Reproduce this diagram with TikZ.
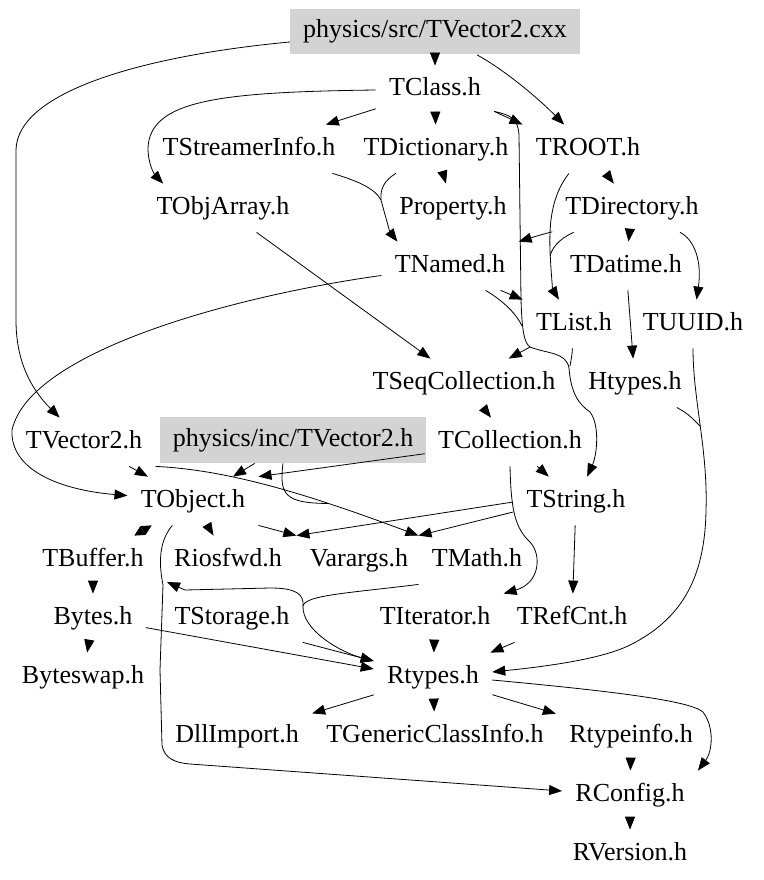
\documentclass[tikz,border=0pt]{standalone}
\usepackage{fontspec}
\setmainfont{Liberation Serif}
\usetikzlibrary{arrows.meta}
\definecolor{docgray}{RGB}{211,211,211}

\begin{document}
\begin{tikzpicture}[->,>={Triangle[length=13pt,width=10pt]},x=1pt,y=-1pt,line width=0.8pt,
                    file node/.style={inner xsep=13pt,inner ysep=0pt,minimum height=48pt,
                      text height=18pt,text depth=6pt,font=\fontsize{26}{30}\selectfont},
                    shown node/.style={file node,fill=docgray,minimum height=45pt},
                    merge line/.style={-}]
  \useasboundingbox (0,0) rectangle (763,880);

  \node[shown node] (cxx) at (435,32) {physics/src/TVector2.cxx};
  \node[file node] (tclass)      at (435,90)  {TClass.h};
  \node[file node] (tstreamer)   at (249,149) {TStreamerInfo.h};
  \node[file node] (tdict)       at (436,149) {TDictionary.h};
  \node[file node] (troot)       at (588,149) {TROOT.h};
  \node[file node] (tobjarray)   at (223,208) {TObjArray.h};
  \node[file node] (property)    at (453,208) {Property.h};
  \node[file node] (tdirectory)  at (632,208) {TDirectory.h};
  \node[file node] (tnamed)      at (450,266) {TNamed.h};
  \node[file node] (tdatime)     at (626,266) {TDatime.h};
  \node[file node] (tlist)       at (574,324) {TList.h};
  \node[file node] (tuuid)       at (693,324) {TUUID.h};
  \node[file node] (tseqcoll)    at (464,383) {TSeqCollection.h};
  \node[file node] (htypes)      at (635,383) {Htypes.h};
  \node[file node] (tvectorh)    at (84,442)  {TVector2.h};
  \node[shown node,minimum height=46pt] (incbox) at (293,440) {physics/inc/TVector2.h};
  \node[file node] (tcollection) at (510,442) {TCollection.h};
  \node[file node] (tobject)     at (193,501) {TObject.h};
  \node[file node] (tstring)     at (576,501) {TString.h};
  \node[file node] (tbuffer)     at (93,560)  {TBuffer.h};
  \node[file node] (riosfwd)     at (228,560) {Riosfwd.h};
  \node[file node] (varargs)     at (359,560) {Varargs.h};
  \node[file node] (tmath)       at (477,560) {TMath.h};
  \node[file node] (bytes)       at (93,618)  {Bytes.h};
  \node[file node] (tstorage)    at (232,618) {TStorage.h};
  \node[file node] (titerator)   at (435,618) {TIterator.h};
  \node[file node] (trefcnt)     at (572,618) {TRefCnt.h};
  \node[file node] (byteswap)    at (83,677)  {Byteswap.h};
  \node[file node] (rtypes)      at (433,677) {Rtypes.h};
  \node[file node] (dllimport)   at (237,736) {DllImport.h};
  \node[file node] (tgeneric)    at (435,736) {TGenericClassInfo.h};
  \node[file node] (rtypeinfo)   at (631,736) {Rtypeinfo.h};
  \node[file node] (rconfig)     at (630,795) {RConfig.h};
  \node[file node] (rversion)    at (630,854) {RVersion.h};

  % points where concentrated edges meet
  \coordinate (jB) at (530,347);
  \coordinate (jC) at (570,366);
  \coordinate (jD) at (381,200);
  \coordinate (jE) at (550,256);
  \coordinate (jF) at (522,326);
  \coordinate (jG) at (328,503.5);
  \coordinate (jH) at (303,606);
  \coordinate (jI) at (700,426);
  \coordinate (jS) at (167,582);

  \path
    (cxx) edge (tclass)
    (tclass) edge (tstreamer)
             edge (tdict)
    ([yshift=3pt]tclass.south east) edge (troot.north west)
    (tdict) edge (property)
    (troot) edge (tdirectory)
    (tdirectory) edge (tdatime)
    (tdatime) edge (htypes)
    ([xshift=-18pt]tnamed.south east) edge (tlist.north west)
    (tobjarray) edge (tseqcoll)
    (tseqcoll) edge (tcollection)
    (tcollection) edge (tstring)
                  edge (tobject.north east)
    (tvectorh) edge (tobject)
    (incbox) edge (tobject)
    (tobject) edge (riosfwd)
              edge[<->,>={Triangle[length=10pt,width=10pt]}] (tbuffer)
    (tobject.south east) edge (varargs.north west)
    ([yshift=-1pt]tstring.west) edge (varargs.north west)
    ([yshift=-11pt]tstring.west) edge (tmath.north west)
    (tstring) edge (trefcnt)
    (tbuffer) edge (bytes)
    (bytes) edge (byteswap)
            edge ([yshift=8pt]rtypes.west)
    (tstorage.south east) edge ([yshift=16pt]rtypes.west)
    (titerator) edge (rtypes)
    (trefcnt) edge (rtypes)
    (rtypes) edge (dllimport)
             edge (tgeneric)
             edge (rtypeinfo)
    (rtypeinfo) edge (rconfig)
    (rconfig) edge (rversion);

  % curved edges
  \draw ([xshift=42pt]cxx.south) .. controls (505,70) and (540,100) .. (troot);
  \draw ([yshift=-10pt]cxx.west) .. controls (150,55) and (17,90) .. (16,150) -- (16,320)
        .. controls (16,360) and (30,388) .. (tvectorh);
  \draw (tclass.west) .. controls (220,92) and (150,100) .. (148,148)
        .. controls (148,165) and (155,175) .. ([xshift=20pt]tobjarray.north west);
  \draw ([yshift=3pt]tclass.south east) .. controls (510,115) and (518,118) .. (519,135) -- (521,300)
        .. controls (522,330) and (524,343) .. (jB) .. controls (548,354) and (566,352) .. (569,368)
        .. controls (571,395) and (580,405) .. (590,412) .. controls (600,425) and (597,455) .. (tstring);
  \draw (jB) -- (tseqcoll);
  \draw[merge line] (tlist) .. controls (572,355) .. (jC);
  \draw (tstreamer) .. controls (355,180) and (375,188) .. (jD)
        .. controls (385,215) and (390,232) .. ([xshift=16pt]tnamed.north west);
  \draw[merge line] (tdict) .. controls (385,180) and (380,188) .. (jD);
  \draw (troot) .. controls (552,195) and (549,222) .. (550,250) .. controls (551,275) and (553,290) .. (tlist);
  \draw[merge line] (tdirectory) .. controls (565,236) and (553,244) .. (jE);
  \draw (tdirectory) .. controls (555,231) and (540,235) .. (tnamed.north east);
  \draw (tdirectory) .. controls (695,240) and (702,262) .. (tuuid);
  \draw[merge line] ([xshift=-33pt]tnamed.south east) .. controls (505,302) and (517,315) .. (jF);
  \draw (tnamed) .. controls (240,295) and (30,350) .. (12,430) .. controls (10,470) and (60,490) .. (tobject);
  \draw (tcollection.south) .. controls (511,510) and (515,528) .. (530,542)
        .. controls (542,555) and (540,583) .. (titerator.north east);
  \draw (tvectorh.south east) .. controls (230,470) and (310,495) .. (tmath.north west);
  \draw[merge line] ([xshift=-10pt]incbox.south) .. controls (279,495) and (285,503) .. (jG);
  \draw (tmath.south west) .. controls (350,593) and (305,595) .. (jH)
        .. controls (302,630) and (340,652) .. ([yshift=16pt]rtypes.west);
  \draw (jH) .. controls (304,594) and (296,588) .. (270,588) -- (185,590) -- (jS);
  \draw (tobject) .. controls (160,540) and (158,560) .. (163,585) -- (160,670) -- (162,745)
        .. controls (164,758) and (175,763) .. (190,764) -- ([yshift=4pt]rconfig.west);
  \draw (tuuid) .. controls (693,400) and (708,450) .. (706,510) .. controls (705,580) and (680,620) .. (630,645)
        .. controls (600,660) and (540,667) .. ([yshift=5pt]rtypes.east);
  \draw[merge line] (htypes) .. controls (688,414) .. (jI);
  \draw ([yshift=-3pt]rtypes.east) .. controls (600,690) and (690,700) .. (703,712)
        .. controls (715,728) and (712,752) .. (rconfig.north east);
\end{tikzpicture}
\end{document}
